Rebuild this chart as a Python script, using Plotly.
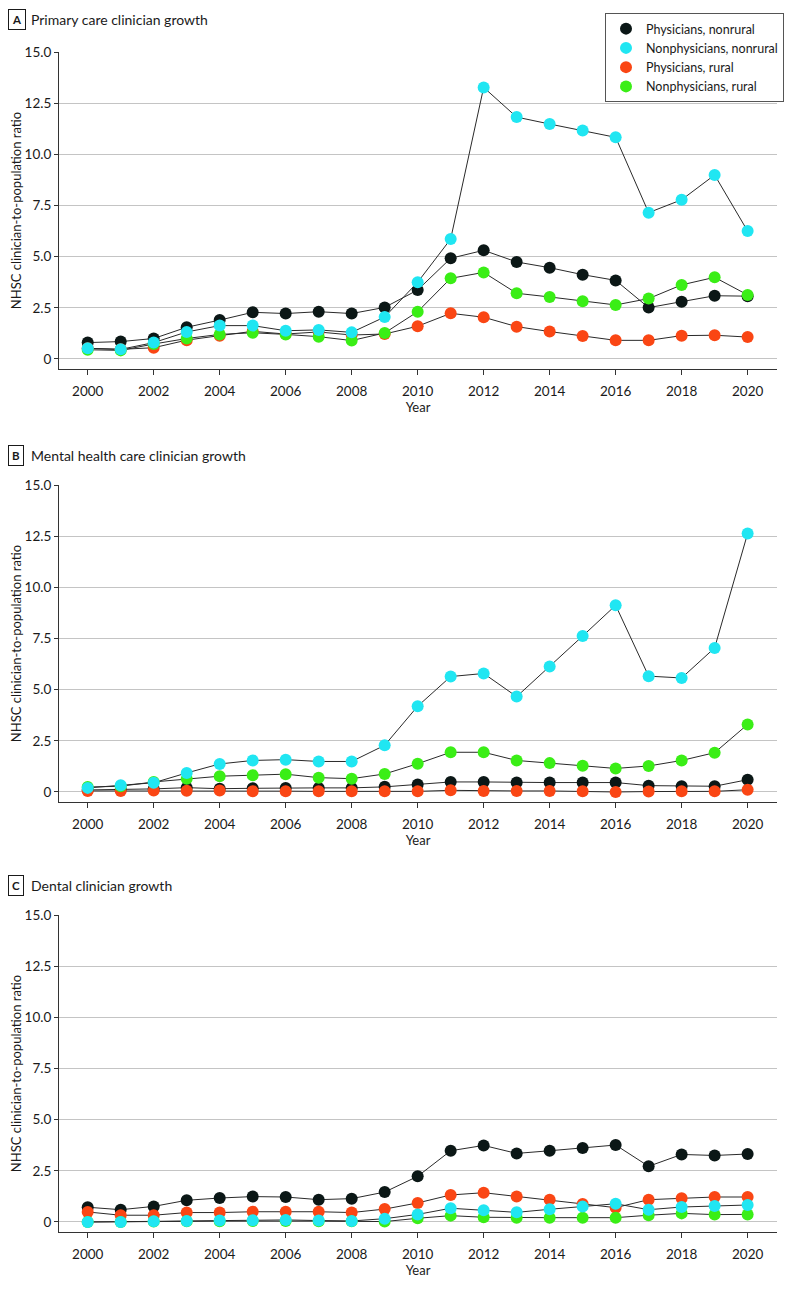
import plotly.graph_objects as go

years = list(range(2000, 2021))

series_names = ["Physicians, nonrural", "Nonphysicians, nonrural", "Physicians, rural", "Nonphysicians, rural"]
series_colors = ["#0b1716", "#20e6f2", "#fa4614", "#3aee16"]

# Panel A: Primary care
a_phys_nonrural = [0.80, 0.85, 1.00, 1.55, 1.90, 2.28, 2.22, 2.31, 2.22, 2.52, 3.37, 4.92, 5.31, 4.74, 4.46, 4.12, 3.84, 2.51, 2.80, 3.09, 3.07]
a_nonphys_nonrural = [0.52, 0.47, 0.80, 1.32, 1.63, 1.63, 1.38, 1.42, 1.30, 2.05, 3.75, 5.86, 13.27, 11.82, 11.48, 11.16, 10.83, 7.15, 7.78, 8.99, 6.25]
a_phys_rural = [0.52, 0.47, 0.55, 0.92, 1.14, 1.35, 1.22, 1.32, 1.17, 1.22, 1.60, 2.23, 2.04, 1.58, 1.34, 1.12, 0.91, 0.91, 1.14, 1.16, 1.07]
a_nonphys_rural = [0.45, 0.42, 0.73, 1.00, 1.20, 1.28, 1.20, 1.09, 0.90, 1.27, 2.31, 3.94, 4.23, 3.21, 3.03, 2.82, 2.64, 2.95, 3.62, 3.99, 3.13]

# Panel B: Mental health care
b_phys_nonrural = [0.10, 0.12, 0.15, 0.21, 0.16, 0.18, 0.20, 0.20, 0.20, 0.25, 0.37, 0.49, 0.49, 0.46, 0.46, 0.46, 0.46, 0.31, 0.28, 0.28, 0.60]
b_nonphys_nonrural = [0.20, 0.33, 0.45, 0.93, 1.37, 1.54, 1.58, 1.49, 1.49, 2.28, 4.19, 5.64, 5.79, 4.66, 6.13, 7.62, 9.12, 5.66, 5.57, 7.04, 12.63]
b_phys_rural = [0.05, 0.05, 0.07, 0.06, 0.07, 0.04, 0.04, 0.03, 0.04, 0.03, 0.03, 0.08, 0.05, 0.05, 0.05, 0.03, 0.00, 0.02, 0.03, 0.03, 0.11]
b_nonphys_rural = [0.24, 0.28, 0.49, 0.64, 0.77, 0.82, 0.87, 0.70, 0.65, 0.88, 1.38, 1.94, 1.94, 1.54, 1.41, 1.28, 1.15, 1.27, 1.54, 1.92, 3.30]

# Panel C: Dental
c_phys_nonrural = [0.72, 0.60, 0.76, 1.06, 1.17, 1.24, 1.22, 1.09, 1.14, 1.46, 2.23, 3.48, 3.74, 3.35, 3.48, 3.61, 3.76, 2.72, 3.30, 3.25, 3.32]
c_nonphys_nonrural = [0.00, 0.00, 0.03, 0.05, 0.07, 0.08, 0.10, 0.07, 0.05, 0.16, 0.37, 0.67, 0.57, 0.47, 0.62, 0.75, 0.89, 0.60, 0.73, 0.78, 0.83]
c_phys_rural = [0.49, 0.33, 0.33, 0.46, 0.46, 0.50, 0.50, 0.50, 0.46, 0.63, 0.93, 1.32, 1.43, 1.25, 1.09, 0.88, 0.70, 1.09, 1.16, 1.22, 1.22]
c_nonphys_rural = [0.00, 0.00, 0.02, 0.03, 0.04, 0.05, 0.05, 0.04, 0.03, 0.02, 0.18, 0.31, 0.23, 0.21, 0.21, 0.21, 0.21, 0.33, 0.42, 0.36, 0.37]

panel_titles = ["Primary care clinician growth", "Mental health care clinician growth", "Dental clinician growth"]
panel_letters = ["A", "B", "C"]
y_tickvals = [0, 2.5, 5, 7.5, 10, 12.5, 15]
y_ticktext = ["0", "2.5", "5.0", "7.5", "10.0", "12.5", "15.0"]
x_tickvals = list(range(2000, 2021, 2))

panels = [
    [a_phys_nonrural, a_nonphys_nonrural, a_phys_rural, a_nonphys_rural],
    [b_phys_nonrural, b_nonphys_nonrural, b_phys_rural, b_nonphys_rural],
    [c_phys_nonrural, c_nonphys_nonrural, c_phys_rural, c_nonphys_rural],
]

W, H = 810, 1313
FONT = "Lato"
OFF = 8  # page body margin offset in the screenshot
# pixel layout (top, bottom) of each plot area, in screenshot pixels
panel_px = [(52, 369), (485, 802), (915, 1232)]
title_px = [20, 455, 885]
x_left_px, x_right_px = 59, 777
M_L = x_left_px - OFF
M_R = W - (x_right_px - OFF)
M_T = panel_px[0][0] - OFF
M_B = H - (panel_px[2][1] - OFF)
PW, PH = W - M_L - M_R, H - M_T - M_B


def px_x(x):
    return (x - OFF - M_L) / PW


def px_y(y):
    return (H - M_B - (y - OFF)) / PH


fig = go.Figure()
draw_order = [0, 2, 3, 1]

for p, data in enumerate(panels):
    xa = "x" if p == 0 else f"x{p+1}"
    ya = "y" if p == 0 else f"y{p+1}"
    for s in draw_order:
        fig.add_trace(go.Scatter(x=years, y=data[s], mode="lines",
                                 line=dict(color="#2a2a2a", width=1),
                                 xaxis=xa, yaxis=ya, showlegend=False, hoverinfo="skip"))
    for s in draw_order:
        fig.add_trace(go.Scatter(x=years, y=data[s], mode="markers",
                                 marker=dict(color=series_colors[s], size=12, line=dict(width=0)),
                                 name=series_names[s], legendrank=s + 1,
                                 xaxis=xa, yaxis=ya, showlegend=(p == 0)))

layout = dict(
    width=W, height=H,
    margin=dict(l=M_L, r=M_R, t=M_T, b=M_B, autoexpand=False),
    paper_bgcolor="white", plot_bgcolor="white",
    font=dict(family=FONT, size=13, color="#1a1a1a"),
    legend=dict(x=px_x(605), y=px_y(13), xanchor="left", yanchor="top",
                bordercolor="#555555", borderwidth=1, bgcolor="white",
                font=dict(size=12.5, family=FONT), itemwidth=30,
                tracegroupgap=0),
    annotations=[],
)

for p in range(3):
    top, bot = panel_px[p]
    xk = "xaxis" if p == 0 else f"xaxis{p+1}"
    yk = "yaxis" if p == 0 else f"yaxis{p+1}"
    ya = "y" if p == 0 else f"y{p+1}"
    xa = "x" if p == 0 else f"x{p+1}"
    layout[xk] = dict(domain=[0, 1], range=[1999.13, 2020.89], automargin=False,
                      anchor=ya, tickvals=x_tickvals, ticks="outside", ticklen=5,
                      tickcolor="#333", showline=True, linecolor="#333", linewidth=1,
                      showgrid=False, zeroline=False, ticklabelstandoff=5,
                      title=dict(text="Year", font=dict(size=13), standoff=4),
                      tickfont=dict(size=13.5))
    layout[yk] = dict(domain=[px_y(bot), px_y(top)], range=[-0.49, 15.0], automargin=False,
                      anchor=xa, tickvals=y_tickvals, ticktext=y_ticktext,
                      ticks="outside", ticklen=4, tickcolor="#333",
                      showline=True, linecolor="#333", linewidth=1,
                      showgrid=True, gridcolor="#c4c4c4", gridwidth=1.3, zeroline=False,
                      title=dict(text="NHSC clinician-to-population ratio", font=dict(size=13), standoff=8),
                      tickfont=dict(size=13.5))
    layout["annotations"].append(dict(
        x=px_x(8), y=px_y(title_px[p]), xref="paper", yref="paper",
        xanchor="left", yanchor="middle", text=f"<b>{panel_letters[p]}</b>",
        showarrow=False, bordercolor="#1a1a1a", borderwidth=1, borderpad=3,
        font=dict(size=11.5, family=FONT)))
    layout["annotations"].append(dict(
        x=px_x(29), y=px_y(title_px[p]), xref="paper", yref="paper",
        xanchor="left", yanchor="middle", text=panel_titles[p],
        showarrow=False, font=dict(size=14, family=FONT)))

fig.update_layout(**layout)
fig.write_html("out.html")
